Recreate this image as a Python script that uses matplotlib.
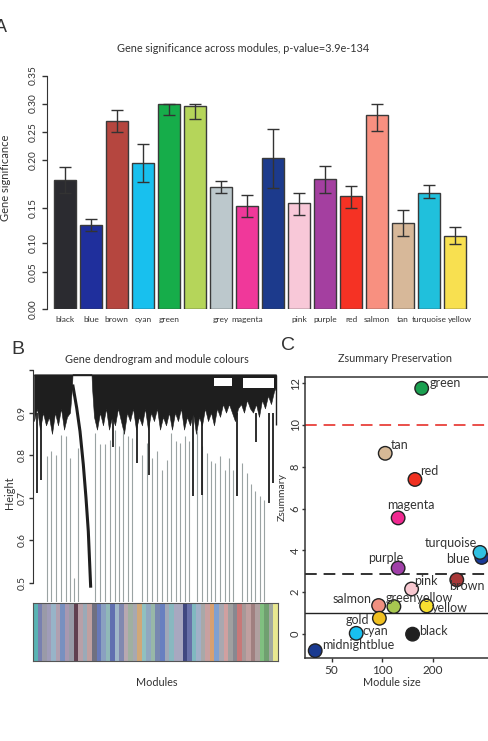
import numpy as np
import matplotlib
matplotlib.use('Agg')
import matplotlib.pyplot as plt
import matplotlib.transforms as mtrans

plt.rcParams['font.family'] = ['Lato', 'DejaVu Sans']
plt.rcParams['text.color'] = '#333333'
plt.rcParams['axes.edgecolor'] = '#333333'
plt.rcParams['xtick.color'] = '#333333'
plt.rcParams['ytick.color'] = '#333333'

W, H = 489, 741


def box(l, t, r, b):
    # pixel box (left, top, right, bottom) -> figure fraction
    return [l / W, 1 - b / H, (r - l) / W, (b - t) / H]


#--- panel A: gene significance per module
modules = ['black', 'blue', 'brown', 'cyan', 'green', 'greenyellow', 'grey', 'magenta',
           'midnightblue', 'pink', 'purple', 'red', 'salmon', 'tan', 'turquoise', 'yellow']
shown = ['black', 'blue', 'brown', 'cyan', 'green', '', 'grey', 'magenta',
         '', 'pink', 'purple', 'red', 'salmon', 'tan', 'turquoise', 'yellow']
gs_mean = [0.179, 0.126, 0.270, 0.197, 0.300, 0.296, 0.172, 0.152,
           0.204, 0.155, 0.180, 0.162, 0.280, 0.128, 0.166, 0.110]
gs_lo = [0.166, 0.117, 0.250, 0.177, 0.280, 0.273, 0.166, 0.137,
         0.171, 0.140, 0.166, 0.150, 0.252, 0.110, 0.160, 0.098]
gs_hi = [0.193, 0.135, 0.288, 0.228, 0.300, 0.300, 0.178, 0.164,
         0.255, 0.166, 0.194, 0.173, 0.300, 0.147, 0.174, 0.123]
bar_colors = ['#2b2b30', '#1f2f9c', '#b5463f', '#18c0ee', '#16ad4a', '#b5d55a', '#bcc8cc', '#f0389a',
              '#1c3a8c', '#f8c8d8', '#a43fa0', '#f53224', '#f89080', '#d7b899', '#20c0dc', '#f8e050']

# the printed y axis is unevenly spaced, follow its tick spacing
gs_ticks = [0.00, 0.05, 0.10, 0.15, 0.20, 0.25, 0.30, 0.35]
gs_tick_px = np.array([309, 272, 243, 208, 160, 132, 103.5, 75.5])

#--- panel B: dendrogram (leaf order units)
stem_x = [12.7, 16.7, 22, 26.7, 31.7, 36, 40, 44.3,
          61, 66, 71, 76, 81, 85, 89.3, 93.7, 98.3,
          107.7, 112.7, 117.7, 122.7, 127.7, 132.7, 136.7, 141.7, 146, 151, 155.3,
          163.3, 167.7, 172.7, 176.7, 181, 186, 191, 195.3, 199.3,
          207.7, 212.7, 216.7, 221.3, 226, 230.3]
stem_h = [0.797, 0.809, 0.801, 0.848, 0.844, 0.793, 0.511, 0.817,
          0.852, 0.825, 0.825, 0.836, 0.860, 0.821, 0.860, 0.844, 0.840,
          0.801, 0.829, 0.793, 0.809, 0.766, 0.789, 0.852, 0.833, 0.829, 0.844, 0.833,
          0.856, 0.821, 0.805, 0.785, 0.782, 0.797, 0.766, 0.793, 0.766,
          0.782, 0.758, 0.731, 0.715, 0.703, 0.695]
mass_x = [0, 3, 6, 9, 12, 15, 18, 21, 24, 27, 30, 33, 36, 38, 38.5, 57.5, 58, 60, 63, 66, 69,
          72, 75, 78, 81, 84, 87, 90, 93, 96, 99, 102, 105, 108, 111, 114, 117, 120, 123, 126,
          129, 132, 135, 138, 141, 144, 147, 150, 153, 156, 159, 162, 165, 168, 171, 174, 177,
          180, 183, 186, 189, 192, 195, 198, 201, 204, 207, 210, 213, 216, 219, 222, 225, 228,
          231, 234, 237, 240, 242]
mass_floor = [0.88, 0.91, 0.86, 0.90, 0.87, 0.89, 0.85, 0.90, 0.87, 0.91, 0.86, 0.89, 0.90, 0.96,
              0.99, 0.99, 0.96, 0.89, 0.86, 0.90, 0.87, 0.91, 0.86, 0.89, 0.87, 0.91, 0.88, 0.85,
              0.90, 0.88, 0.91, 0.86, 0.89, 0.87, 0.91, 0.86, 0.90, 0.88, 0.91, 0.86, 0.89, 0.87,
              0.90, 0.86, 0.90, 0.88, 0.91, 0.86, 0.89, 0.87, 0.90, 0.85, 0.89, 0.87, 0.91, 0.88,
              0.90, 0.87, 0.91, 0.89, 0.92, 0.90, 0.92, 0.90, 0.88, 0.91, 0.92, 0.90, 0.93, 0.91,
              0.90, 0.92, 0.89, 0.93, 0.91, 0.94, 0.92, 0.95, 0.96]
holes = [(180, 198, 0.962, 0.982), (209, 240, 0.957, 0.982)]
drip_x = [2.7, 7, 79.3, 102.7, 115, 159.3, 167.7, 203.3, 222, 235.3, 239.3]
drip_h = [0.711, 0.742, 0.82, 0.782, 0.754, 0.703, 0.707, 0.703, 0.83, 0.687, 0.735]
curve_x = [38.7, 42.7, 46, 49.3, 52, 54.3, 56.7]
curve_h = [0.966, 0.911, 0.856, 0.778, 0.699, 0.621, 0.488]
stripes = ['#5ab4b4', '#7880b0', '#9a9aa8', '#a09cb8', '#98b4c8', '#b0a0b0', '#7890c0', '#a898b0',
           '#989ca8', '#604050', '#b8a0a8', '#9aaab8', '#c0a0a0', '#707080', '#6878b8', '#8aa0c0',
           '#90b8b8', '#6070b0', '#a0b8c8', '#8088b0', '#b8a8b0', '#a0b0a0', '#a8a8b0', '#d0a878',
           '#90c0c0', '#90a8c0', '#98b8a8', '#7888b0', '#6880c0', '#a0a8b8', '#88b8c0', '#a8a8c0',
           '#a8a8c0', '#404880', '#6870a8', '#80b8c0', '#a0b0c8', '#a8a8a8', '#c8a0a0', '#d8a070',
           '#80a0d0', '#a8a8b0', '#d0a0a0', '#a0a0a0', '#888890', '#c87878', '#a89898', '#c0a0a0',
           '#a08080', '#b0a0a0', '#80c080', '#70a070', '#a0a8a0', '#e8e890']

#--- panel C: Zsummary preservation
zs_modules = ['green', 'tan', 'red', 'magenta', 'blue', 'turquoise', 'purple', 'brown', 'pink',
              'salmon', 'greenyellow', 'yellow', 'gold', 'cyan', 'black', 'midnightblue']
mod_size = [171, 104, 156, 124, 388, 379, 124, 276, 149, 95, 117, 183, 96, 70, 151, 40]
zsummary = [11.75, 8.64, 7.39, 5.55, 3.66, 3.90, 3.15, 2.59, 2.15, 1.36, 1.31, 1.34, 0.75, 0.03, -0.01, -0.80]
zs_colors = ['#1aa050', '#d6b896', '#f03020', '#f02890', '#1a3a98', '#30c0e0', '#a040a8', '#a83838',
             '#f8c8d0', '#f09080', '#a8c850', '#f8e030', '#f0c020', '#18c0f0', '#202020', '#1a3a90']
# label placement (pixels right/down from the point, alignment)
lab_off = {'green': (8, -5, 'left'), 'tan': (6, -8, 'left'), 'red': (5, -8, 'left'),
           'magenta': (-11, -13, 'left'), 'turquoise': (-3, -9, 'right'), 'blue': (-12, 2, 'right'),
           'purple': (5, -10, 'right'), 'brown': (-8, 6, 'left'), 'pink': (3, -8, 'left'),
           'salmon': (-7, -7, 'right'), 'greenyellow': (-8, -9, 'left'), 'yellow': (5, 2, 'left'),
           'gold': (-10, 2, 'right'), 'cyan': (6, -2, 'left'), 'black': (7, -3, 'left'),
           'midnightblue': (7, -6, 'left')}

fig = plt.figure(figsize=(W / 100, H / 100), dpi=100)

#-- A
axA = fig.add_axes(box(47, 75.5, 470, 309))
warp = (309 - gs_tick_px) / (309 - 75.5) * 0.35
axA.set_yscale('function', functions=(lambda v: np.interp(v, gs_ticks, warp),
                                      lambda u: np.interp(u, warp, gs_ticks)))
xpos = 0.7 + 1.2 * np.arange(len(modules))
mean = np.array(gs_mean)
axA.bar(xpos, mean, width=1, color=bar_colors, edgecolor='#3a3a3a', linewidth=1)
axA.errorbar(xpos, mean, yerr=[mean - np.array(gs_lo), np.array(gs_hi) - mean], fmt='none',
             ecolor='#333333', elinewidth=1, capsize=4.2, capthick=1)
axA.set_xlim(-0.12, 19.38)
axA.set_ylim(0, 0.35)
axA.set_yticks(gs_ticks)
axA.set_yticklabels(['%.2f' % t for t in gs_ticks])
axA.yaxis.set_minor_locator(plt.NullLocator())
axA.set_xticks(xpos)
axA.set_xticklabels(shown, fontsize=6.0)
axA.tick_params(axis='x', length=0, pad=5)
# the last label sits a little to the right, as in the print
last = axA.get_xticklabels()[-1]
last.set_transform(last.get_transform() + mtrans.Affine2D().translate(5, 0))
axA.tick_params(axis='y', length=3.5, width=1, labelsize=7.3, labelrotation=90, pad=3)
for t in axA.get_yticklabels():
    t.set_va('center')
for s in ['top', 'right', 'bottom']:
    axA.spines[s].set_visible(False)
axA.spines['left'].set_bounds(0, 0.35)
fig.text(243 / W, 1 - 48 / H, 'Gene significance across modules, p-value=3.9e-134',
         ha='center', va='center', fontsize=7.8)
fig.text(6 / W, 1 - 178 / H, 'Gene significance', rotation=90, ha='center', va='center', fontsize=8)
fig.text(1 / W, 1 - 28 / H, 'A', ha='center', va='center', fontsize=13, family='Liberation Sans')

#-- B
axD = fig.add_axes(box(34, 370.1, 278, 601.7))
axD.set_xlim(0, 244)
axD.set_ylim(0.455, 1.0)
axD.vlines(stem_x, 0.455, stem_h, color='#9aa3a3', lw=0.8)
axD.fill_between(mass_x, mass_floor, 0.99, color='#1e1e1e', lw=0.4, edgecolor='#1e1e1e')
for x0, x1, lo, hi in holes:
    axD.fill_between([x0, x1], lo, hi, color='white', lw=0)
axD.vlines(drip_x, drip_h, 0.9, color='#1e1e1e', lw=1.3)
axD.plot(curve_x, curve_h, color='#1e1e1e', lw=2.2, solid_capstyle='butt')
axD.hlines(0.988, 0, 242, color='#1e1e1e', lw=1)
axD.vlines(242, 0.87, 0.988, color='#1e1e1e', lw=1)
for s in ['top', 'right', 'bottom']:
    axD.spines[s].set_visible(False)
axD.spines['left'].set_bounds(0.5, 1.0)
axD.spines['left'].set_position(('outward', 1))
axD.set_xticks([])
axD.set_yticks([0.5, 0.6, 0.7, 0.8, 0.9, 1.0])
axD.set_yticklabels(['0.5', '0.6', '0.7', '0.8', '0.9', ''])
axD.tick_params(axis='y', length=3, width=1, labelsize=7.3, labelrotation=90, pad=1.5)
for t in axD.get_yticklabels():
    t.set_va('center')

axC = fig.add_axes(box(33, 602.5, 278, 661))
axC.bar(np.arange(len(stripes)), 1, width=1, color=stripes, lw=0)
axC.set_xlim(-0.5, len(stripes) - 0.5)
axC.set_ylim(0, 1)
axC.set_xticks([])
axC.set_yticks([])
for s in axC.spines.values():
    s.set_color('#555555')
    s.set_linewidth(0.8)
fig.text(157 / W, 1 - 360 / H, 'Gene dendrogram and module colours', ha='center', va='center', fontsize=7.8)
fig.text(157 / W, 1 - 682 / H, 'Modules', ha='center', va='center', fontsize=7.8)
fig.text(10 / W, 1 - 493 / H, 'Height', rotation=90, ha='center', va='center', fontsize=7.8)
fig.text(17.5 / W, 1 - 350 / H, 'B', ha='center', va='center', fontsize=14, family='Liberation Sans')

#-- C
axZ = fig.add_axes(box(305, 377, 495, 658))
axZ.set_xscale('log')
axZ.set_xlim(34.8, 465)
axZ.set_ylim(-1.15, 12.29)
axZ.axhline(10, color='#e8413c', ls=(0, (6.5, 3.8)), lw=1.3)
axZ.axhline(2.85, color='#222222', ls=(0, (6.5, 3.8)), lw=1.3)
axZ.axhline(1, color='#222222', lw=1)
axZ.scatter(mod_size, zsummary, s=95, c=zs_colors, edgecolors='#222222', linewidths=1, zorder=3)
for name, xv, yv in zip(zs_modules, mod_size, zsummary):
    dx, dy, ha = lab_off[name]
    axZ.annotate(name, (xv, yv), xytext=(dx * 0.72, -dy * 0.72), textcoords='offset points',
                 ha=ha, va='center', fontsize=9, zorder=4)
axZ.set_xticks([50, 100, 200])
axZ.set_xticklabels(['50', '100', '200'])
axZ.xaxis.set_minor_locator(plt.NullLocator())
axZ.set_yticks([0, 2, 4, 6, 8, 10, 12])
axZ.tick_params(axis='x', length=3, width=1, labelsize=8.5, pad=2)
axZ.tick_params(axis='y', length=2.5, width=1, labelsize=8, labelrotation=90, pad=0.5)
for t in axZ.get_yticklabels():
    t.set_va('center')
for s in axZ.spines.values():
    s.set_linewidth(1.1)
fig.text(392 / W, 1 - 683 / H, 'Module size', ha='center', va='center', fontsize=7.8)
fig.text(282 / W, 1 - 497 / H, 'Zsummary', rotation=90, ha='center', va='center', fontsize=7.5)
fig.text(395 / W, 1 - 359 / H, 'Zsummary Preservation', ha='center', va='center', fontsize=7.8)
fig.text(287.5 / W, 1 - 346 / H, 'C', ha='center', va='center', fontsize=14, family='Liberation Sans')

fig.savefig('out.png', dpi=100)
